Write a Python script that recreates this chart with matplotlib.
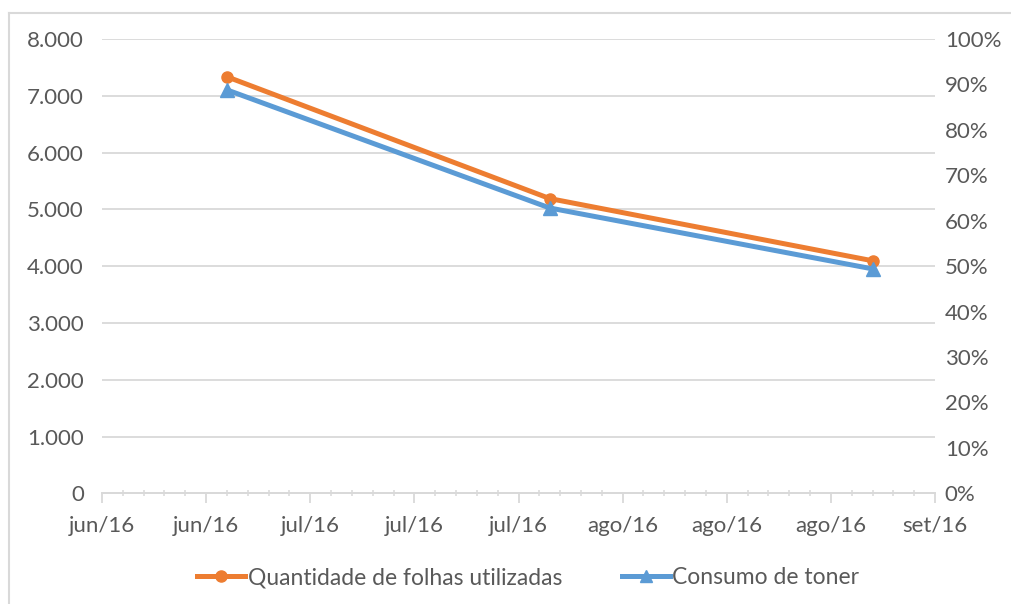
import datetime as dt
import matplotlib
matplotlib.use("Agg")
import matplotlib.pyplot as plt
import matplotlib.dates as mdates
from matplotlib.ticker import FixedLocator, FuncFormatter, MultipleLocator
from matplotlib.lines import Line2D
import numpy as np

# --- data ---
dates = [dt.date(2016, 6, 30), dt.date(2016, 7, 31), dt.date(2016, 8, 31)]
folhas = [7335, 5190, 4095]          # Quantidade de folhas utilizadas (eixo esquerdo)
toner = [0.888, 0.628, 0.494]        # Consumo de toner (eixo direito)
meses = ["jan", "fev", "mar", "abr", "mai", "jun", "jul", "ago", "set", "out", "nov", "dez"]

x_start = dt.date(2016, 6, 18)
x_end = dt.date(2016, 9, 6)

plt.rcParams["font.family"] = ["Lato", "DejaVu Sans"]
txt = "#595959"
grid_c = "#d9d9d9"
orange = "#ED7D31"
blue = "#5B9BD5"
fs = 16

fig = plt.figure(figsize=(10.12, 6.04), dpi=100)
ax = fig.add_axes([102 / 1012, 1 - 493.3 / 604, (935 - 102) / 1012, (493.3 - 39) / 604])
ax2 = ax.twinx()

ax.plot(dates, folhas, color=orange, lw=3.6, marker="o", ms=8, solid_capstyle="round",
        label="Quantidade de folhas utilizadas", zorder=3)
ax2.plot(dates, toner, color=blue, lw=3.6, marker="^", ms=10, solid_capstyle="round",
         label="Consumo de toner", zorder=3)

ax.set_xlim(x_start, x_end)
ax.set_ylim(0, 8000)
ax2.set_ylim(0, 1.0)

x0 = mdates.date2num(x_start)
x1 = mdates.date2num(x_end)
ax.xaxis.set_major_locator(FixedLocator(np.arange(x0, x1 + 0.5, 10)))
ax.xaxis.set_minor_locator(FixedLocator(np.arange(x0, x1 + 0.5, 2)))
ax.xaxis.set_major_formatter(FuncFormatter(
    lambda v, p: meses[mdates.num2date(v).month - 1] + mdates.num2date(v).strftime("/%y")))

ax.yaxis.set_major_locator(MultipleLocator(1000))
ax.yaxis.set_major_formatter(FuncFormatter(lambda v, p: f"{v:,.0f}".replace(",", ".")))
ax2.yaxis.set_major_locator(MultipleLocator(0.1))
ax2.yaxis.set_major_formatter(FuncFormatter(lambda v, p: f"{v * 100:.0f}%"))

ax.grid(axis="y", color=grid_c, lw=1.3)
ax.set_axisbelow(True)
for a in (ax, ax2):
    for s in ("top", "left", "right"):
        a.spines[s].set_visible(False)
    a.spines["bottom"].set_color(grid_c)
    a.spines["bottom"].set_linewidth(1.3)

ax.tick_params(axis="x", which="major", direction="out", length=7, color=grid_c, width=1.3,
               labelsize=fs, labelcolor=txt, pad=9)
ax.tick_params(axis="x", which="minor", direction="inout", length=5, color=grid_c, width=1.1)
ax.tick_params(axis="y", length=0, labelsize=fs, labelcolor=txt, pad=13)
ax2.tick_params(axis="y", length=0, labelsize=fs, labelcolor=txt, pad=7)

handles = [Line2D([], [], color=orange, lw=3.6, marker="o", ms=8),
           Line2D([], [], color=blue, lw=3.6, marker="^", ms=8)]
fig.legend(handles, ["Quantidade de folhas utilizadas", "Consumo de toner"],
           loc="center", bbox_to_anchor=(0.522, 1 - 578 / 604), ncol=2, frameon=False,
           fontsize=16.5, labelcolor=txt, handlelength=2.1, handletextpad=0.1,
           columnspacing=2.6)

# chart border
fig.add_artist(Line2D([9 / 1012, 9 / 1012], [0, 1 - 13 / 604], color=grid_c, lw=1.5,
                      transform=fig.transFigure))
fig.add_artist(Line2D([9 / 1012, 1], [1 - 13 / 604, 1 - 13 / 604], color=grid_c, lw=1.5,
                      transform=fig.transFigure))

fig.savefig("out.png", dpi=100)
